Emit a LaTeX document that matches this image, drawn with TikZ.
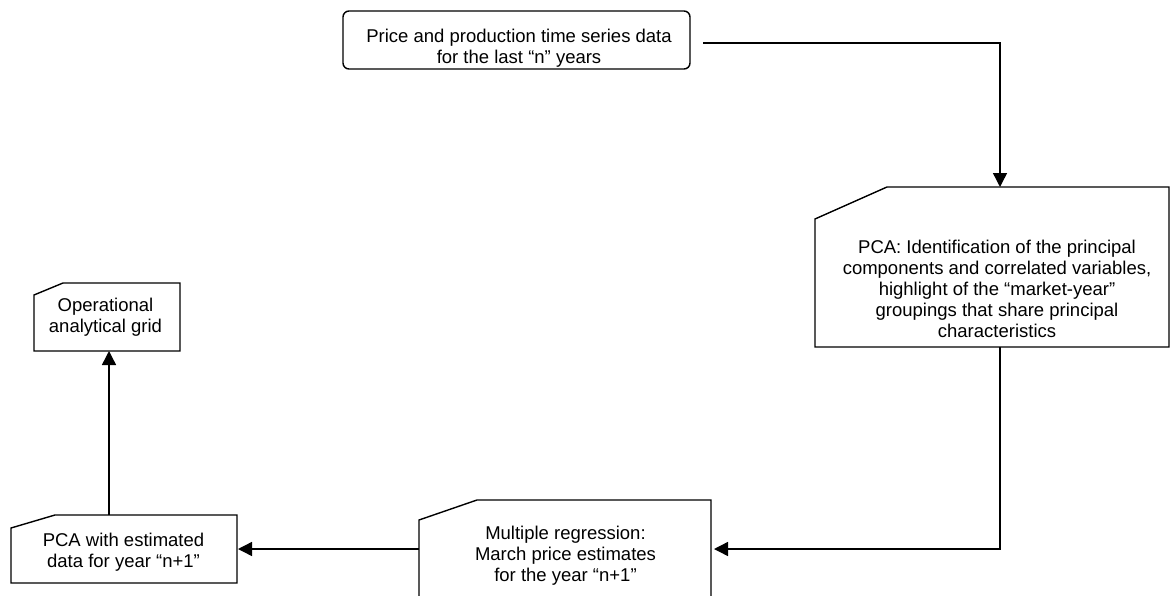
\documentclass[tikz,border=0pt]{standalone}
\usepackage{fontspec}
\setmainfont{Liberation Sans}
\usetikzlibrary{arrows.meta}
\begin{document}
\begin{tikzpicture}[x=1pt,y=-1pt,
  boxline/.style={line width=1.4pt, line join=miter},
  boxnode/.style={inner sep=0pt, outer sep=0pt, draw=none},
  txt/.style={inner sep=0pt, align=center, font=\fontsize{18.5pt}{21pt}\selectfont},
  arr/.style={line width=1.4pt, -{Triangle[length=14pt,width=14pt]}}]
\path[use as bounding box] (0,0) rectangle (1171,595);
\clip (0,0) rectangle (1171,595);
% source box
\node[boxnode, draw, boxline, rounded corners=6pt, minimum width=347pt, minimum height=58pt] (src) at (516.5,40) {};
\node[txt, anchor=base] (srct) at (519,63.5) {Price and production time series data\\for the last “n” years};
% PCA box
\node[boxnode, minimum width=354pt, minimum height=160pt] (pca) at (992,267) {};
\draw[boxline] ([yshift=-32pt]pca.north west) -- ([xshift=72pt]pca.north west) -- (pca.north east) -- (pca.south east) -- (pca.south west) -- cycle;
\node[txt, anchor=base] (pcat) at (997,337) {PCA: Identification of the principal\\components and correlated variables,\\highlight of the “market-year”\\groupings that share principal\\characteristics};
% multiple regression box
\node[boxnode, minimum width=292pt, minimum height=98pt] (mr) at (565,549) {};
\draw[boxline] ([yshift=-20pt]mr.north west) -- ([xshift=58pt]mr.north west) -- (mr.north east) -- (mr.south east) -- (mr.south west) -- cycle;
\node[txt, anchor=base] (mrt) at (565.5,581.7) {Multiple regression:\\March price estimates\\for the year “n+1”};
% PCA with estimated data box
\node[boxnode, minimum width=226pt, minimum height=68pt] (pcae) at (124,549) {};
\draw[boxline] ([yshift=-13pt]pcae.north west) -- ([xshift=44pt]pcae.north west) -- (pcae.north east) -- (pcae.south east) -- (pcae.south west) -- cycle;
\node[txt, anchor=base] (pcaet) at (123.5,567) {PCA with estimated\\data for year “n+1”};
% operational grid box
\node[boxnode, minimum width=146pt, minimum height=68pt] (opg) at (107,317) {};
\draw[boxline] ([yshift=-12pt]opg.north west) -- ([xshift=29pt]opg.north west) -- (opg.north east) -- (opg.south east) -- (opg.south west) -- cycle;
\node[txt, anchor=base] (opgt) at (105.5,332) {Operational\\analytical grid};
% connectors
\draw[arr] ([xshift=13pt,yshift=-3pt]src.east) -| ([xshift=8pt]pca.north);
\draw[arr] ([xshift=8pt]pca.south) |- ([xshift=3pt]mr.east);
\draw[arr] (mr.west) -- ([xshift=1pt]pcae.east);
\draw[arr] ([xshift=-15pt]pcae.north) -- ([xshift=-15pt]pcae.north |- opg.south);
\end{tikzpicture}
\end{document}
